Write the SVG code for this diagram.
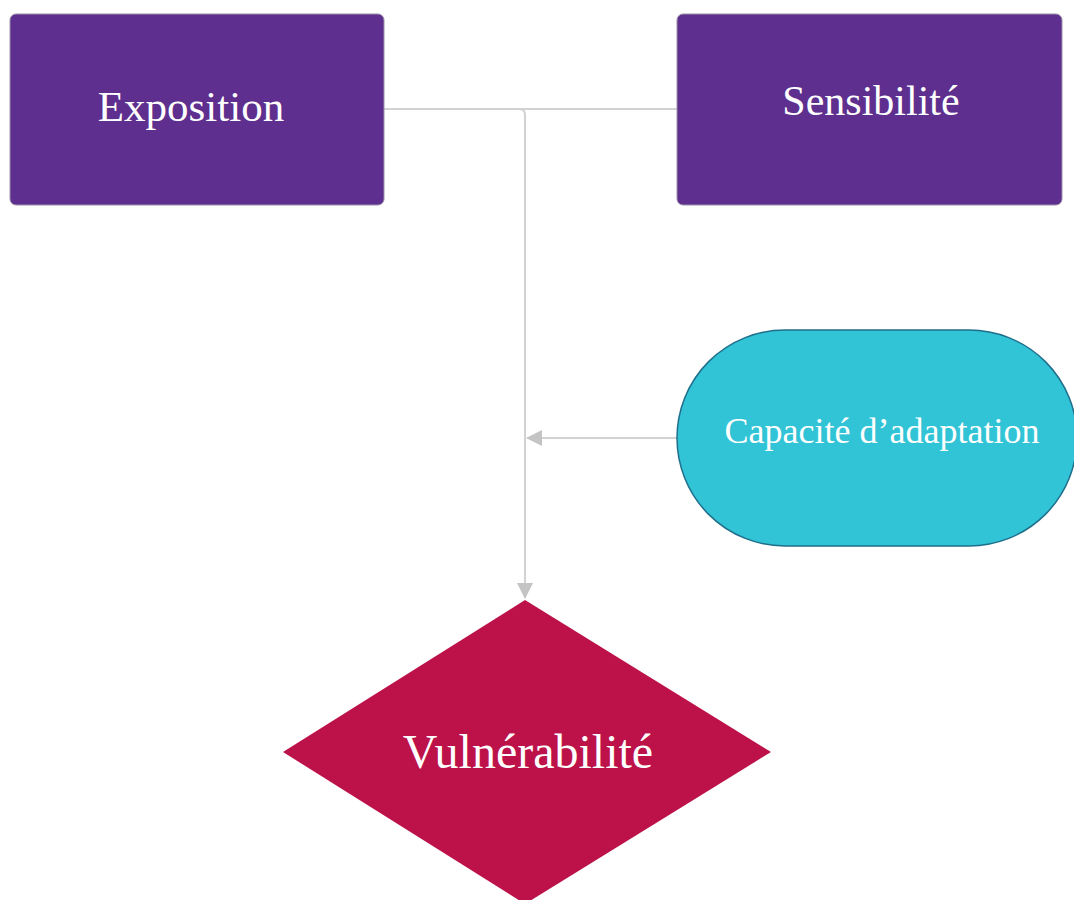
<svg xmlns="http://www.w3.org/2000/svg" width="1074" height="900" viewBox="0 0 1074 900">
<style>
.box{fill:#5E2F8E;stroke:#9a90a8;stroke-width:1}
.lbl{font-family:"Liberation Serif","Times New Roman",serif;fill:#ffffff;text-anchor:middle;dominant-baseline:central}
.conn{fill:none;stroke:#d2d2d2;stroke-width:2}
</style>
<defs>
<marker id="arr2" markerWidth="16" markerHeight="16" refX="15" refY="8" orient="auto" markerUnits="userSpaceOnUse" viewBox="0 0 16 16">
<path d="M0,0 L16,8 L0,16 Z" fill="#c4c4c4"/>
</marker>
</defs>
<rect width="1074" height="900" fill="#ffffff"/>
<g id="connectors">
<path class="conn" d="M384,109 H677"/>
<path class="conn" d="M519,109 Q525,109 525,115 V598" marker-end="url(#arr2)"/>
<path class="conn" d="M677,438 H527" marker-end="url(#arr2)"/>
</g>
<g id="exposition">
<rect class="box" x="10" y="14" width="374" height="191" rx="6"/>
<text class="lbl" x="191" y="106" font-size="43">Exposition</text>
</g>
<g id="sensibilite">
<rect class="box" x="677" y="14" width="385" height="191" rx="6"/>
<text class="lbl" x="871" y="101" font-size="42">Sensibilité</text>
</g>
<g id="capacite">
<rect x="677" y="330" width="400" height="216" rx="108" fill="#31C3D6" stroke="#1F6F8B" stroke-width="1.5"/>
<text class="lbl" x="882" y="431" font-size="36">Capacité d’adaptation</text>
</g>
<g id="vulnerabilite">
<path d="M525,600 L771,752 L525,904 L283,752 Z" fill="#BC1249"/>
<text class="lbl" x="528" y="751" font-size="48">Vulnérabilité</text>
</g>
</svg>
